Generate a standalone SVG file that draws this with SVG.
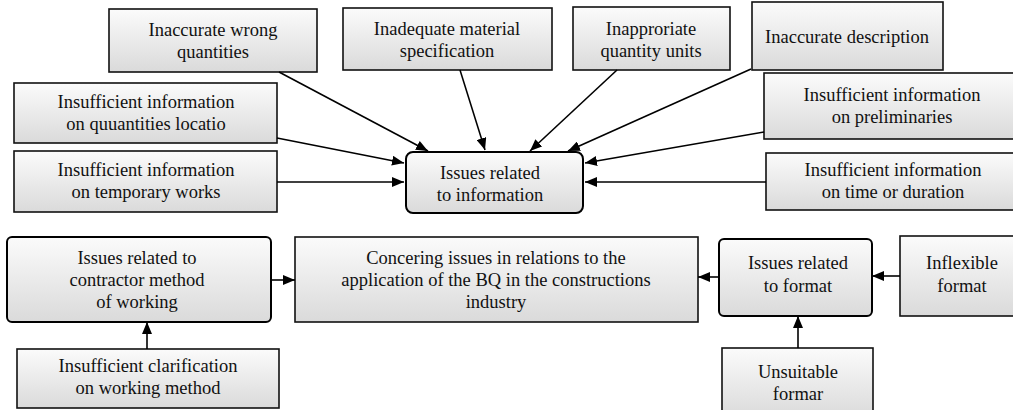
<svg xmlns="http://www.w3.org/2000/svg" width="1013" height="410" viewBox="0 0 1013 410">
<defs>
<linearGradient id="g" x1="0" y1="0" x2="0" y2="1">
<stop offset="0" stop-color="#fbfbfb"/>
<stop offset="1" stop-color="#dadada"/>
</linearGradient>
<marker id="ah" viewBox="0 0 12 10" refX="12" refY="5" markerWidth="12" markerHeight="10" markerUnits="userSpaceOnUse" orient="auto">
<path d="M0,0 L12,5 L0,10 z" fill="#000"/>
</marker>
</defs>
<style>
.b{fill:url(#g);stroke:#111;stroke-width:1.6}
.r{fill:url(#g);stroke:#000;stroke-width:2}
text{font-size:18.5px;fill:#111;text-anchor:middle}
.c line{stroke:#000;stroke-width:1.6;marker-end:url(#ah)}
</style>
<rect width="1013" height="410" fill="#fff"/>
<g font-family="Liberation Serif, Times New Roman, Tinos, DejaVu Serif, serif">
<g id="n1"><rect class="b" x="109" y="9" width="208" height="63"/><text x="213" y="36">Inaccurate wrong</text><text x="213" y="58">quantities</text></g>
<g id="n2"><rect class="b" x="343" y="8" width="209" height="62"/><text x="447" y="35">Inadequate material</text><text x="447" y="57">specification</text></g>
<g id="n3"><rect class="b" x="573" y="7" width="157" height="63"/><text x="651" y="35">Inapproriate</text><text x="651" y="57">quantity units</text></g>
<g id="n4"><rect class="b" x="752" y="2" width="191" height="68" stroke-width="2"/><text x="847" y="43">Inaccurate description</text></g>
<g id="n5"><rect class="b" x="14" y="83" width="263" height="60"/><text x="146" y="108">Insufficient information</text><text x="146" y="130">on quuantities locatio</text></g>
<g id="n6"><rect class="b" x="14" y="151" width="263" height="61"/><text x="146" y="176">Insufficient information</text><text x="146" y="198">on temporary works</text></g>
<g id="n7"><rect class="b" x="764" y="73" width="260" height="66"/><text x="892" y="101">Insufficient information</text><text x="892" y="123">on preliminaries</text></g>
<g id="n8"><rect class="b" x="766" y="153" width="260" height="57"/><text x="893" y="176">Insufficient information</text><text x="893" y="198">on time or duration</text></g>
<g id="n9"><rect class="r" x="406" y="152" width="177" height="61" rx="7"/><text x="490" y="179">Issues related</text><text x="490" y="201">to information</text></g>
<g id="n10"><rect class="r" x="7" y="237" width="264" height="85" rx="5"/><text x="137" y="264">Issues related to</text><text x="137" y="286">contractor method</text><text x="137" y="308">of working</text></g>
<g id="n11"><rect class="b" x="295" y="237" width="403" height="85"/><text x="496" y="264">Concering issues in relations to the</text><text x="496" y="286">application of the BQ in the constructions</text><text x="496" y="308">industry</text></g>
<g id="n12"><rect class="r" x="719" y="239" width="153" height="77" rx="5"/><text x="798" y="269">Issues related</text><text x="798" y="292">to format</text></g>
<g id="n13"><rect class="b" x="900" y="236" width="125" height="80"/><text x="962" y="269">Inflexible</text><text x="962" y="292">format</text></g>
<g id="n14"><rect class="b" x="722" y="348" width="151" height="70"/><text x="798" y="378">Unsuitable</text><text x="798" y="400">formar</text></g>
<g id="n15"><rect class="b" x="17" y="349" width="262" height="59"/><text x="148" y="372">Insufficient clarification</text><text x="148" y="394">on working method</text></g>
</g>
<g id="connectors" class="c">
<line x1="279" y1="72" x2="428" y2="151"/>
<line x1="460" y1="70" x2="485" y2="150"/>
<line x1="617" y1="70" x2="530" y2="151"/>
<line x1="751" y1="69" x2="568" y2="151"/>
<line x1="277" y1="138" x2="404" y2="163"/>
<line x1="277" y1="182" x2="404" y2="182"/>
<line x1="764" y1="132" x2="585" y2="163"/>
<line x1="766" y1="182" x2="585" y2="182"/>
<line x1="271" y1="280" x2="295" y2="280"/>
<line x1="719" y1="277" x2="698" y2="277"/>
<line x1="900" y1="276" x2="872" y2="276"/>
<line x1="798" y1="348" x2="798" y2="316"/>
<line x1="147" y1="349" x2="147" y2="322"/>
</g>
</svg>
